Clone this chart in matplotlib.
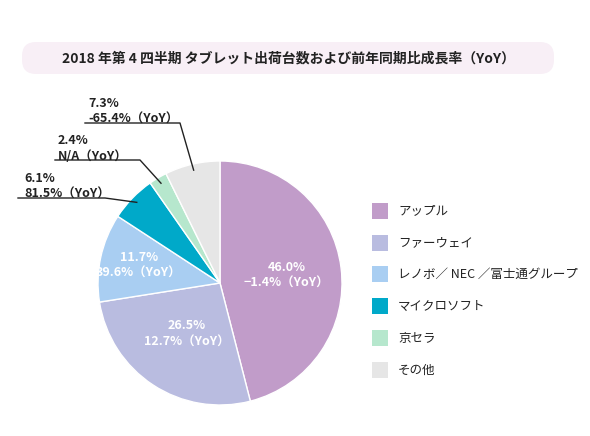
import matplotlib
matplotlib.use("Agg")
import matplotlib.pyplot as plt
import numpy as np
from matplotlib.patches import FancyBboxPatch

plt.rcParams['font.family'] = ['Noto Sans CJK JP', 'DejaVu Sans']

categories = ["アップル", "ファーウェイ", "レノボ／ NEC ／富士通グループ", "マイクロソフト", "京セラ", "その他"]
shares = [46.0, 26.5, 11.7, 6.1, 2.4, 7.3]
yoy = ["−1.4%", "12.7%", "39.6%", "81.5%", "N/A", "-65.4%"]
colors = ["#c19cc9", "#b9bce0", "#a9cef2", "#00a9c9", "#b6e7cd", "#e6e6e6"]
title = "2018 年第 4 四半期 タブレット出荷台数および前年同期比成長率（YoY）"

W, H = 590, 436
fig = plt.figure(figsize=(W/100, H/100), dpi=100)
# title box
bax = fig.add_axes([0, 0, 1, 1]); bax.set_xlim(0, W); bax.set_ylim(H, 0); bax.axis('off')
bax.add_patch(FancyBboxPatch((22, 42), 532, 32, boxstyle="round,pad=0,rounding_size=14",
                             fc="#f8eff6", ec="none"))
bax.text(288, 58, title, ha='center', va='center', fontsize=10, fontweight='bold', color='#222222')

cx, cy, R = 220, 283, 122
ax = fig.add_axes([(cx-R)/W, 1-(cy+R)/H, 2*R/W, 2*R/H])
wedges, _ = ax.pie(shares, colors=colors, startangle=90, counterclock=False,
                   wedgeprops=dict(edgecolor='white', linewidth=1))
ax.set_xlim(-1, 1); ax.set_ylim(-1, 1); ax.set_aspect('auto')

def d(px, py):
    return (px-cx)/R, (cy-py)/R

# inside labels
inside = {0: (0.45, 0.0), 1: (0.45, 0), 2: (0.6, 0)}
for i in range(3):
    w = wedges[i]
    ang = np.deg2rad((w.theta1 + w.theta2)/2)
    r = 0.5 if i < 2 else 0.68
    x, y = r*np.cos(ang), r*np.sin(ang)
    if i == 0: x += 0.05
    ax.text(x, y, f"{shares[i]:.1f}%\n{yoy[i]}（YoY）", ha='center' if i else 'center', va='center',
            color='white', fontsize=9, fontweight='bold', linespacing=1.3)

# outside labels: (text px x, text top px y, underline y, line x start, line x end)
outs = {5: (88, 97, 123, 85, 180), 4: (58, 134, 160, 55, 140), 3: (24, 172, 198, 18, 105)}
for i, (tx, ty, ly, x0, x1) in outs.items():
    w = wedges[i]
    ang = np.deg2rad((w.theta1 + w.theta2)/2)
    ex, ey = 0.95*np.cos(ang), 0.95*np.sin(ang)
    a, b = d(x0, ly); c, _ = d(x1, ly)
    ax.plot([a, c, ex], [b, b, ey], color='#222222', lw=1, clip_on=False)
    bax.text(tx, ty, f"{shares[i]:.1f}%\n{yoy[i]}（YoY）", ha='left', va='top', fontsize=9,
             fontweight='bold', color='#222222', linespacing=1.25)

# legend
ys = [211, 243, 274, 306, 338, 370]
for c, lab, y in zip(colors, categories, ys):
    bax.add_patch(plt.Rectangle((372, y-8), 16, 16, fc=c, ec='none'))
    bax.text(398, y, lab, va='center', ha='left', fontsize=9, color='#222222')

fig.savefig("out.png", dpi=100)
